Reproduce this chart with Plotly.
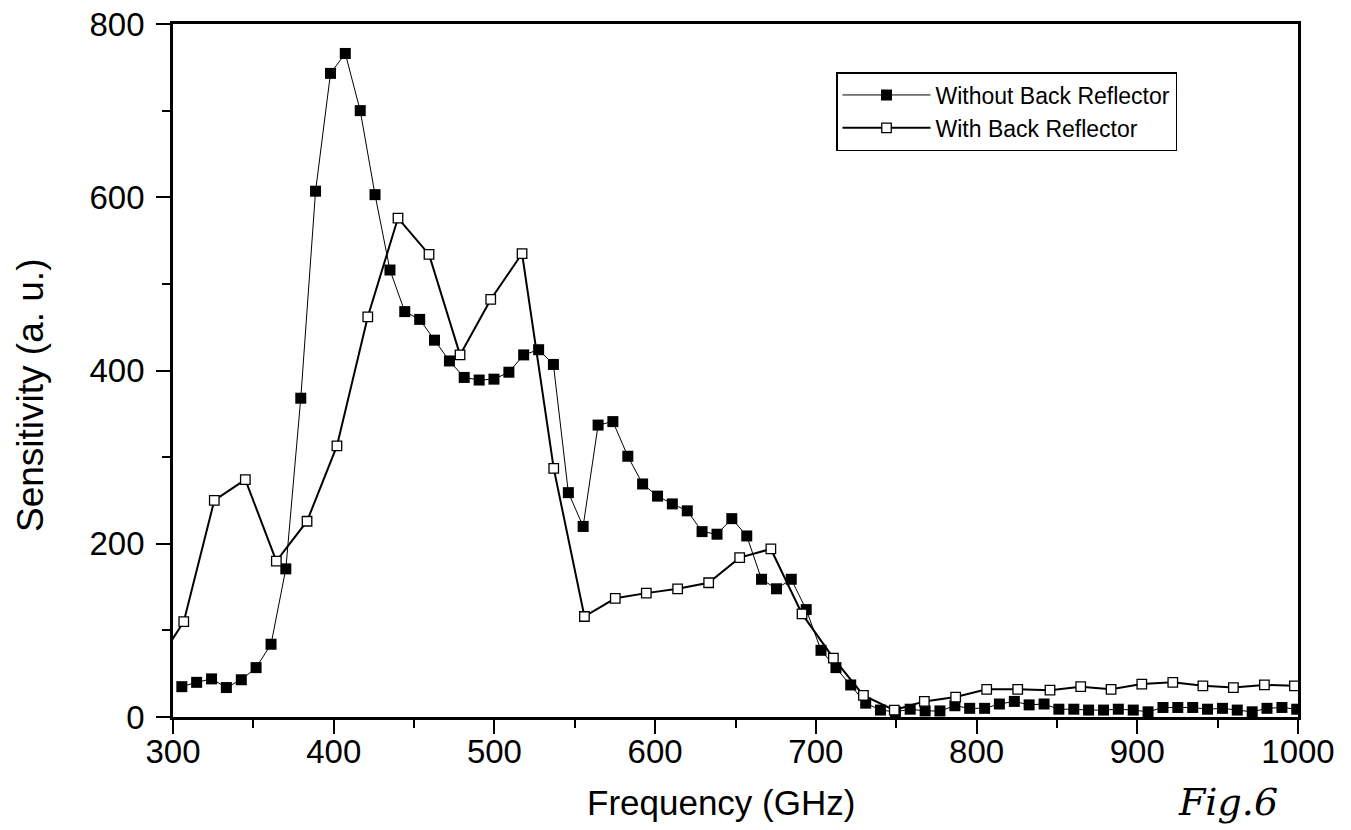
import plotly.graph_objects as go

# ---- data ----
freq_without = [305.5, 314.7, 324.0, 333.2, 342.5, 351.7, 361.0, 370.2, 379.5, 388.7,
                398.0, 407.2, 416.5, 425.7, 435.0, 444.2, 453.5, 462.7, 472.0, 481.2,
                490.5, 499.7, 509.0, 518.2, 527.5, 536.7, 546.0, 555.2, 564.5, 573.7,
                583.0, 592.2, 601.5, 610.7, 620.0, 629.2, 638.5, 647.7, 657.0, 666.2,
                675.5, 684.7, 694.0, 703.2, 712.5, 721.7, 731.0, 740.2, 749.5, 758.7,
                768.0, 777.2, 786.5, 795.7, 805.0, 814.2, 823.5, 832.7, 842.0, 851.2,
                860.5, 869.7, 879.0, 888.2, 897.5, 906.7, 916.0, 925.2, 934.5, 943.7,
                953.0, 962.2, 971.5, 980.7, 990.0, 999.2]
sens_without = [35, 40, 44, 34, 43, 57, 84, 171, 368, 607,
                743, 766, 700, 603, 516, 468, 459, 435, 411, 392,
                389, 390, 398, 418, 424, 407, 259, 220, 337, 341,
                301, 269, 255, 246, 238, 214, 211, 229, 209, 159,
                148, 159, 124, 77, 57, 37, 16, 8, 6, 9,
                7, 7, 13, 10, 10, 15, 18, 14, 15, 9,
                9, 8, 8, 9, 8, 6, 11, 11, 11, 9,
                10, 8, 6, 10, 11, 9]

freq_with = [287.5, 306.7, 325.7, 345.0, 364.3, 383.4, 402.0, 421.2, 440.0, 459.3,
             478.6, 497.7, 517.2, 536.9, 556.0, 575.2, 594.5, 614.0, 633.3, 652.6,
             672.0, 691.4, 710.9, 729.6, 748.8, 767.5, 787.0, 806.3, 825.6, 845.7,
             864.8, 883.7, 902.8, 922.1, 940.8, 959.8, 979.1, 997.8]
sens_with = [55, 110, 250, 274, 180, 226, 313, 462, 576, 534,
             418, 482, 535, 287, 116, 137, 143, 148, 155, 184,
             194, 119, 68, 25, 8, 18, 23, 32, 32, 31,
             35, 32, 38, 40, 36, 34, 37, 36]

x_ticks = [300, 400, 500, 600, 700, 800, 900, 1000]
y_ticks = [0, 200, 400, 600, 800]

FONT = "Liberation Sans, Arial, sans-serif"

fig = go.Figure()
fig.add_trace(go.Scatter(
    x=freq_without, y=sens_without, mode="lines+markers",
    name="Without Back Reflector",
    line=dict(color="black", width=1),
    marker=dict(symbol="square", size=11, color="black", line=dict(width=0)),
))
fig.add_trace(go.Scatter(
    x=freq_with, y=sens_with, mode="lines+markers",
    name="With Back Reflector",
    line=dict(color="black", width=2),
    marker=dict(symbol="square", size=9.5, color="white", line=dict(color="black", width=1.3)),
))

axis_common = dict(
    showgrid=False, zeroline=False, showline=True, linecolor="black", linewidth=2.8,
    mirror=True, ticks="outside", ticklen=14, tickwidth=2, tickcolor="black",
    tickfont=dict(family=FONT, size=33, color="black"), automargin=False,
)

fig.update_xaxes(
    range=[300, 1000], tickvals=x_ticks, ticktext=[str(v) for v in x_ticks],
    ticklabelstandoff=-11,
    minor=dict(ticks="outside", ticklen=8, tickwidth=2, tickcolor="black", dtick=50),
    **axis_common,
)
fig.update_yaxes(
    range=[0, 800], tickvals=y_ticks, ticktext=[str(v) for v in y_ticks],
    ticklabelstandoff=5,
    minor=dict(ticks="outside", ticklen=8, tickwidth=2, tickcolor="black", dtick=100),
    **axis_common,
)

L, R, T, B = 173, 53, 24, 113
PW, PH = 1351 - L - R, 830 - T - B

fig.update_layout(
    width=1351, height=830,
    margin=dict(l=L, r=R, t=T, b=B),
    paper_bgcolor="white", plot_bgcolor="white",
    showlegend=True,
    legend=dict(
        x=(836 - L) / PW, y=(830 - B - 72) / PH, xanchor="left", yanchor="top",
        bordercolor="black", borderwidth=1.5, bgcolor="white",
        font=dict(family=FONT, size=23, color="black"),
        itemwidth=88,
    ),
    annotations=[
        dict(text="Frequency (GHz)", xref="paper", yref="paper",
             x=(721 - L) / PW, y=(830 - B - 802) / PH, xanchor="center", yanchor="middle",
             showarrow=False, font=dict(family=FONT, size=35, color="black")),
        dict(text="Sensitivity (a. u.)", xref="paper", yref="paper", textangle=-90,
             x=(30 - L) / PW, y=(830 - B - 396) / PH, xanchor="center", yanchor="middle",
             showarrow=False, font=dict(family=FONT, size=37, color="black")),
        dict(text="<i>Fig.6</i>", xref="paper", yref="paper",
             x=(1228 - L) / PW, y=(830 - B - 802) / PH, xanchor="center", yanchor="middle",
             showarrow=False, font=dict(family="DejaVu Serif", size=38, color="black")),
    ],
)

fig.write_html("out.html")
